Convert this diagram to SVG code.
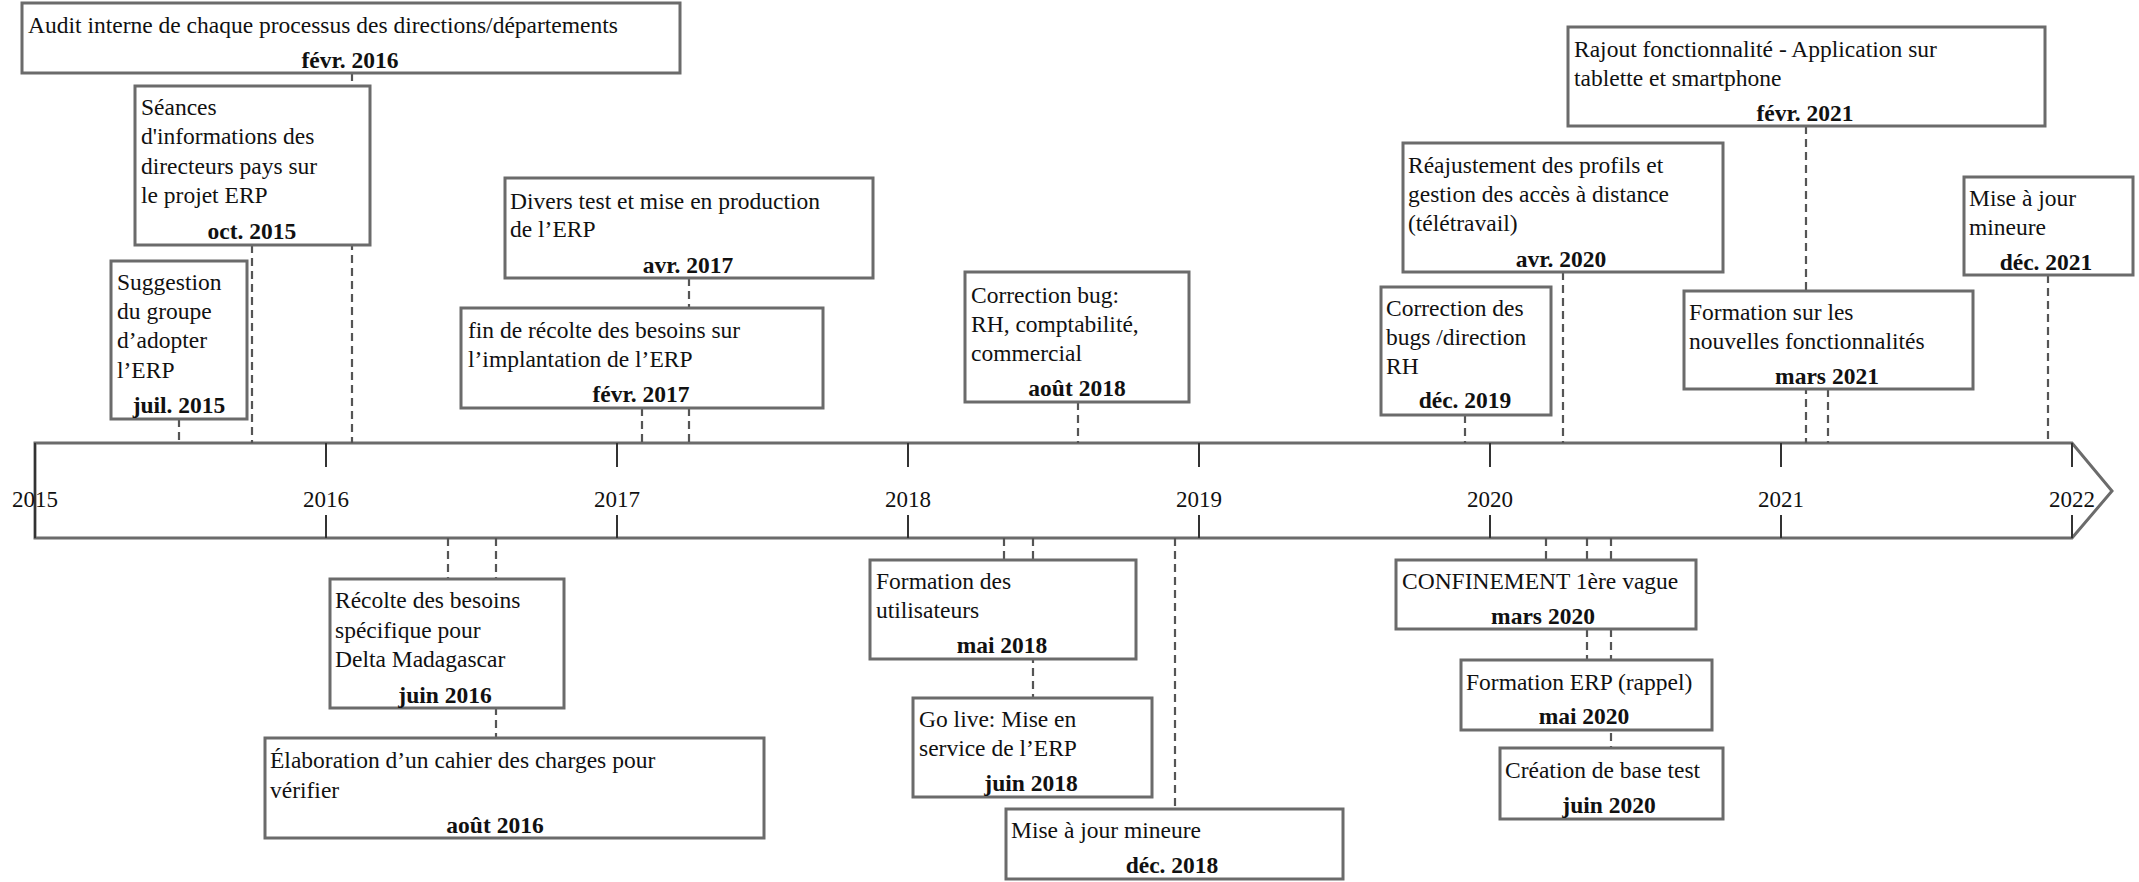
<svg xmlns="http://www.w3.org/2000/svg" width="2139" height="882" viewBox="0 0 2139 882">
<style>
text{font-family:"Liberation Serif","Times New Roman",serif;font-size:23.5px;fill:#111}
.d{font-weight:bold;text-anchor:middle}
.y{text-anchor:middle;font-size:23px}
.box{fill:#fff;stroke:#6b6b6b;stroke-width:3}
.c line{stroke:#555;stroke-width:2.2;stroke-dasharray:8 5}
.ax{fill:none;stroke:#6b6b6b;stroke-width:3;stroke-linejoin:miter}
.tk{stroke:#333;stroke-width:2}
</style>
<rect width="2139" height="882" fill="#fff"/>
<g id="axis">
<path class="ax" d="M35,443 H2072 L2112,491 L2072,538 H35 Z"/>
<g class="tk">
<line x1="35" y1="443" x2="35" y2="538"/>
<line x1="326" y1="443" x2="326" y2="467"/><line x1="326" y1="515" x2="326" y2="538"/>
<line x1="617" y1="443" x2="617" y2="467"/><line x1="617" y1="515" x2="617" y2="538"/>
<line x1="908" y1="443" x2="908" y2="467"/><line x1="908" y1="515" x2="908" y2="538"/>
<line x1="1199" y1="443" x2="1199" y2="467"/><line x1="1199" y1="515" x2="1199" y2="538"/>
<line x1="1490" y1="443" x2="1490" y2="467"/><line x1="1490" y1="515" x2="1490" y2="538"/>
<line x1="1781" y1="443" x2="1781" y2="467"/><line x1="1781" y1="515" x2="1781" y2="538"/>
<line x1="2072" y1="443" x2="2072" y2="467"/><line x1="2072" y1="515" x2="2072" y2="538"/>
</g>
<text class="y" x="35" y="507">2015</text>
<text class="y" x="326" y="507">2016</text>
<text class="y" x="617" y="507">2017</text>
<text class="y" x="908" y="507">2018</text>
<text class="y" x="1199" y="507">2019</text>
<text class="y" x="1490" y="507">2020</text>
<text class="y" x="1781" y="507">2021</text>
<text class="y" x="2072" y="507">2022</text>
</g>
<g id="connectors" class="c">
<line x1="179" y1="419" x2="179" y2="443"/>
<line x1="252" y1="245" x2="252" y2="443"/>
<line x1="352" y1="73" x2="352" y2="443"/>
<line x1="642" y1="408" x2="642" y2="443"/>
<line x1="689" y1="278" x2="689" y2="443"/>
<line x1="1078" y1="402" x2="1078" y2="443"/>
<line x1="1465" y1="415" x2="1465" y2="443"/>
<line x1="1563" y1="272" x2="1563" y2="443"/>
<line x1="1806" y1="126" x2="1806" y2="443"/>
<line x1="1828" y1="389" x2="1828" y2="443"/>
<line x1="2048" y1="275" x2="2048" y2="443"/>
<line x1="448" y1="538" x2="448" y2="579"/>
<line x1="496" y1="538" x2="496" y2="738"/>
<line x1="1004" y1="538" x2="1004" y2="560"/>
<line x1="1033" y1="538" x2="1033" y2="698"/>
<line x1="1175" y1="538" x2="1175" y2="809"/>
<line x1="1546" y1="538" x2="1546" y2="560"/>
<line x1="1587" y1="538" x2="1587" y2="660"/>
<line x1="1611" y1="538" x2="1611" y2="748"/>
</g>
<g id="n-audit">
<rect class="box" x="22" y="3" width="658" height="70"/>
<text x="28" y="33">Audit interne de chaque processus des directions/départements</text>
<text class="d" x="350" y="68">févr. 2016</text>
</g>
<g id="n-seances">
<rect class="box" x="135" y="86" width="235" height="159"/>
<text x="141" y="115">Séances</text>
<text x="141" y="144">d'informations des</text>
<text x="141" y="174">directeurs pays sur</text>
<text x="141" y="203">le projet ERP</text>
<text class="d" x="252" y="239">oct. 2015</text>
</g>
<g id="n-suggestion">
<rect class="box" x="111" y="261" width="136" height="158"/>
<text x="117" y="290">Suggestion</text>
<text x="117" y="319">du groupe</text>
<text x="117" y="348">d’adopter</text>
<text x="117" y="378">l’ERP</text>
<text class="d" x="179" y="413">juil. 2015</text>
</g>
<g id="n-divers">
<rect class="box" x="505" y="178" width="368" height="100"/>
<text x="510" y="209">Divers test et mise en production</text>
<text x="510" y="237">de l’ERP</text>
<text class="d" x="688" y="273">avr. 2017</text>
</g>
<g id="n-fin">
<rect class="box" x="461" y="308" width="362" height="100"/>
<text x="468" y="338">fin de récolte des besoins sur</text>
<text x="468" y="367">l’implantation de l’ERP</text>
<text class="d" x="641" y="402">févr. 2017</text>
</g>
<g id="n-correction-bug">
<rect class="box" x="965" y="272" width="224" height="130"/>
<text x="971" y="303">Correction bug:</text>
<text x="971" y="332">RH, comptabilité,</text>
<text x="971" y="361">commercial</text>
<text class="d" x="1077" y="396">août 2018</text>
</g>
<g id="n-correction-rh">
<rect class="box" x="1381" y="287" width="170" height="128"/>
<text x="1386" y="316">Correction des</text>
<text x="1386" y="345">bugs /direction</text>
<text x="1386" y="374">RH</text>
<text class="d" x="1465" y="408">déc. 2019</text>
</g>
<g id="n-reajustement">
<rect class="box" x="1403" y="143" width="320" height="129"/>
<text x="1408" y="173">Réajustement des profils et</text>
<text x="1408" y="202">gestion des accès à distance</text>
<text x="1408" y="231">(télétravail)</text>
<text class="d" x="1561" y="267">avr. 2020</text>
</g>
<g id="n-rajout">
<rect class="box" x="1568" y="27" width="477" height="99"/>
<text x="1574" y="57">Rajout fonctionnalité - Application sur</text>
<text x="1574" y="86">tablette et smartphone</text>
<text class="d" x="1805" y="121">févr. 2021</text>
</g>
<g id="n-formation-fonct">
<rect class="box" x="1684" y="291" width="289" height="98"/>
<text x="1689" y="320">Formation sur les</text>
<text x="1689" y="349">nouvelles fonctionnalités</text>
<text class="d" x="1827" y="384">mars 2021</text>
</g>
<g id="n-maj-2021">
<rect class="box" x="1964" y="177" width="169" height="98"/>
<text x="1969" y="206">Mise à jour</text>
<text x="1969" y="235">mineure</text>
<text class="d" x="2046" y="270">déc. 2021</text>
</g>
<g id="n-recolte">
<rect class="box" x="330" y="579" width="234" height="129"/>
<text x="335" y="608">Récolte des besoins</text>
<text x="335" y="638">spécifique pour</text>
<text x="335" y="667">Delta Madagascar</text>
<text class="d" x="445" y="703">juin 2016</text>
</g>
<g id="n-elaboration">
<rect class="box" x="265" y="738" width="499" height="100"/>
<text x="270" y="768">Élaboration d’un cahier des charges pour</text>
<text x="270" y="798">vérifier</text>
<text class="d" x="495" y="833">août 2016</text>
</g>
<g id="n-formation-util">
<rect class="box" x="870" y="560" width="266" height="99"/>
<text x="876" y="589">Formation des</text>
<text x="876" y="618">utilisateurs</text>
<text class="d" x="1002" y="653">mai 2018</text>
</g>
<g id="n-golive">
<rect class="box" x="913" y="698" width="239" height="99"/>
<text x="919" y="727">Go live: Mise en</text>
<text x="919" y="756">service de l’ERP</text>
<text class="d" x="1031" y="791">juin 2018</text>
</g>
<g id="n-maj-2018">
<rect class="box" x="1006" y="809" width="337" height="70"/>
<text x="1011" y="838">Mise à jour mineure</text>
<text class="d" x="1172" y="873">déc. 2018</text>
</g>
<g id="n-confinement">
<rect class="box" x="1396" y="560" width="300" height="69"/>
<text x="1402" y="589">CONFINEMENT 1ère vague</text>
<text class="d" x="1543" y="624">mars 2020</text>
</g>
<g id="n-formation-erp">
<rect class="box" x="1461" y="660" width="251" height="70"/>
<text x="1466" y="690">Formation ERP (rappel)</text>
<text class="d" x="1584" y="724">mai 2020</text>
</g>
<g id="n-creation">
<rect class="box" x="1500" y="748" width="223" height="71"/>
<text x="1505" y="778">Création de base test</text>
<text class="d" x="1609" y="813">juin 2020</text>
</g>
</svg>
